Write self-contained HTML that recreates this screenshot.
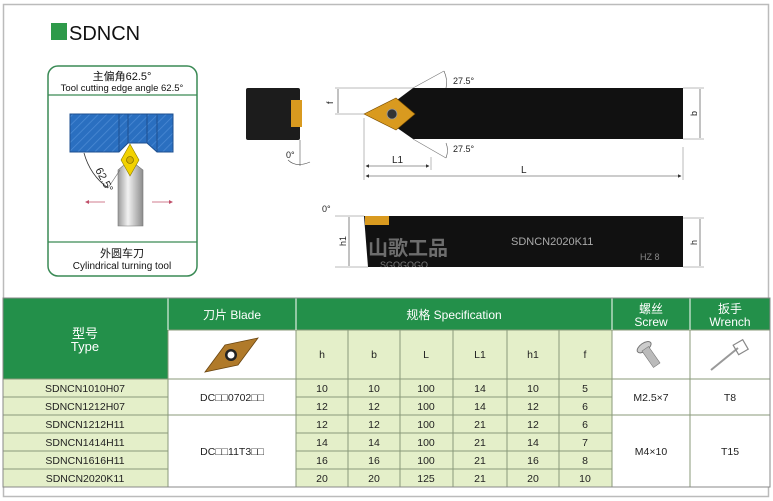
<!DOCTYPE html>
<html><head><meta charset="utf-8"><style>
body{margin:0;width:773px;height:501px;background:#fff;overflow:hidden;font-family:"Liberation Sans","Noto Sans CJK SC",sans-serif}
svg{position:absolute;left:0;top:0}
</style></head><body>
<svg width="773" height="501" viewBox="0 0 773 501" font-family="Liberation Sans, Noto Sans CJK SC, sans-serif">
<defs>
<pattern id="hatch" width="6" height="6" patternUnits="userSpaceOnUse" patternTransform="rotate(45)"><rect width="6" height="6" fill="#2a6fc0"/><line x1="0" y1="0" x2="0" y2="6" stroke="#4b8ad4" stroke-width="1.5"/></pattern>
<linearGradient id="shaft" x1="0" x2="1"><stop offset="0" stop-color="#9a9a9a"/><stop offset="0.4" stop-color="#f2f2f2"/><stop offset="1" stop-color="#8c8c8c"/></linearGradient>
<marker id="ar" markerWidth="6" markerHeight="6" refX="5" refY="3" orient="auto-start-reverse"><path d="M0,0 L6,3 L0,6 z" fill="#333"/></marker>
</defs>
<rect x="3.5" y="4.5" width="765" height="492" fill="none" stroke="#bbb" stroke-width="1.5"/>
<rect x="51" y="23" width="16" height="17" fill="#2e9a4a"/>
<text x="69" y="40" font-size="20" fill="#111">SDNCN</text>

<rect x="48" y="66" width="149" height="210" rx="10" fill="#fff" stroke="#3a8a55" stroke-width="1.5"/>
<line x1="48" y1="95" x2="197" y2="95" stroke="#3a8a55" stroke-width="1.2"/>
<line x1="48" y1="242" x2="197" y2="242" stroke="#3a8a55" stroke-width="1.2"/>
<text x="122" y="80" font-size="11" text-anchor="middle" fill="#111">主偏角62.5°</text>
<text x="122" y="91" font-size="9.5" text-anchor="middle" fill="#111">Tool cutting edge angle 62.5°</text>
<text x="122" y="257" font-size="11" text-anchor="middle" fill="#111">外圆车刀</text>
<text x="122" y="269" font-size="10" text-anchor="middle" fill="#111">Cylindrical turning tool</text>
<path d="M70,114 H173 V152 H157 L147,143 H128 L119,152 H70 Z" fill="url(#hatch)" stroke="#1d4f8f" stroke-width="1"/>
<line x1="119" y1="114" x2="119" y2="152" stroke="#1d4f8f"/><line x1="128" y1="114" x2="128" y2="143" stroke="#1d4f8f"/><line x1="147" y1="114" x2="147" y2="143" stroke="#1d4f8f"/><line x1="157" y1="114" x2="157" y2="152" stroke="#1d4f8f"/>
<path d="M118,170 L130,160 L143,170 V226 H118 Z" fill="url(#shaft)" stroke="#777" stroke-width="0.6"/>
<path d="M130,144 L139,160 L130,176 L121,160 Z" fill="#f2d200" stroke="#8a7a00" stroke-width="0.6"/>
<circle cx="130" cy="160" r="3.5" fill="#d8b400" stroke="#6b5a00" stroke-width="0.6"/>
<path d="M84,153 Q90,175 108,188" fill="none" stroke="#333" stroke-width="0.8"/>
<line x1="108" y1="188" x2="120" y2="170" stroke="#666" stroke-width="0.6"/>
<text x="95" y="170" font-size="11" fill="#222" transform="rotate(62 95 170)">62.5°</text>
<line x1="88" y1="202" x2="105" y2="202" stroke="#c0506a" stroke-width="0.8"/><path d="M85,202 l4,-2 v4z" fill="#c0506a"/>
<line x1="152" y1="202" x2="170" y2="202" stroke="#c0506a" stroke-width="0.8"/><path d="M173,202 l-4,-2 v4z" fill="#c0506a"/>

<rect x="246" y="88" width="54" height="52" rx="2" fill="#1c1c1c"/>
<rect x="291" y="100" width="11" height="27" fill="#d99a1f"/>
<text x="286" y="158" font-size="9" fill="#222">0°</text>
<line x1="300" y1="140" x2="300" y2="166" stroke="#555" stroke-width="0.6"/>
<path d="M288,160 Q296,168 310,162" fill="none" stroke="#555" stroke-width="0.6"/>

<path d="M413,88 H683 V139 H413 L393,125 L393,103 Z" fill="#111"/>
<path d="M364,114 L396,98 L415,114 L396,130 Z" fill="#d99a1f" stroke="#7a4e00" stroke-width="0.6"/>
<circle cx="392" cy="114" r="5" fill="#333" stroke="#999" stroke-width="0.8"/>
<line x1="413" y1="88" x2="444" y2="71" stroke="#777" stroke-width="0.6"/>
<line x1="413" y1="139" x2="446" y2="158" stroke="#777" stroke-width="0.6"/>
<path d="M444,71 Q448,80 446,88" fill="none" stroke="#555" stroke-width="0.6"/>
<path d="M446,143 Q449,150 446,158" fill="none" stroke="#555" stroke-width="0.6"/>
<text x="453" y="84" font-size="9" fill="#222">27.5°</text>
<text x="453" y="152" font-size="9" fill="#222">27.5°</text>
<line x1="335" y1="88" x2="413" y2="88" stroke="#777" stroke-width="0.5"/>
<line x1="335" y1="114" x2="364" y2="114" stroke="#777" stroke-width="0.5"/>
<line x1="338" y1="89" x2="338" y2="113" stroke="#333" stroke-width="0.6"/>
<text x="333" y="104" font-size="9" fill="#222" transform="rotate(-90 333 104)">f</text>
<line x1="364" y1="118" x2="364" y2="180" stroke="#777" stroke-width="0.5"/>
<line x1="431" y1="157" x2="431" y2="170" stroke="#777" stroke-width="0.5"/>
<line x1="366" y1="166" x2="429" y2="166" stroke="#333" stroke-width="0.6" marker-end="url(#ar)" marker-start="url(#ar)"/>
<text x="392" y="163" font-size="10" fill="#222">L1</text>
<line x1="683" y1="147" x2="683" y2="180" stroke="#777" stroke-width="0.5"/>
<line x1="366" y1="176" x2="681" y2="176" stroke="#333" stroke-width="0.6" marker-end="url(#ar)" marker-start="url(#ar)"/>
<text x="521" y="173" font-size="10" fill="#222">L</text>
<line x1="683" y1="88" x2="704" y2="88" stroke="#777" stroke-width="0.5"/>
<line x1="683" y1="139" x2="704" y2="139" stroke="#777" stroke-width="0.5"/>
<line x1="700" y1="89" x2="700" y2="138" stroke="#333" stroke-width="0.6"/>
<text x="697" y="116" font-size="9" fill="#222" transform="rotate(-90 697 116)">b</text>

<path d="M364,216 H683 V267 H368 Z" fill="#111"/>
<rect x="365" y="216" width="24" height="9" fill="#d99a1f"/>
<text x="511" y="245" font-size="11" fill="#aaa">SDNCN2020K11</text>
<text x="640" y="260" font-size="9" fill="#888">HZ 8</text>
<text x="322" y="212" font-size="9" fill="#222">0°</text>
<line x1="335" y1="216" x2="364" y2="216" stroke="#777" stroke-width="0.5"/>
<line x1="335" y1="267" x2="368" y2="267" stroke="#777" stroke-width="0.5"/>
<line x1="349" y1="217" x2="349" y2="266" stroke="#333" stroke-width="0.6"/>
<text x="346" y="246" font-size="9" fill="#222" transform="rotate(-90 346 246)">h1</text>
<line x1="683" y1="218" x2="704" y2="218" stroke="#777" stroke-width="0.5"/>
<line x1="683" y1="267" x2="704" y2="267" stroke="#777" stroke-width="0.5"/>
<line x1="700" y1="219" x2="700" y2="266" stroke="#333" stroke-width="0.6"/>
<text x="697" y="245" font-size="9" fill="#222" transform="rotate(-90 697 245)">h</text>
<text x="368" y="255" font-size="20" font-weight="bold" fill="#ddd" opacity="0.45">山歌工品</text>
<text x="380" y="268" font-size="9" fill="#ddd" opacity="0.5">SGOGOGO</text>

<g stroke="#8a9a7a" stroke-width="1">
<rect x="3" y="298" width="767" height="32" fill="#23904a" stroke="none"/>
<rect x="3" y="330" width="165" height="49" fill="#23904a" stroke="none"/>
<rect x="168" y="330" width="128" height="49" fill="#fff"/>
<rect x="296" y="330" width="316" height="49" fill="#e4efc9"/>
<rect x="612" y="330" width="78" height="49" fill="#fff"/>
<rect x="690" y="330" width="80" height="49" fill="#fff"/>
<rect x="3" y="379" width="165" height="108" fill="#e4efc9"/>
<rect x="168" y="379" width="128" height="108" fill="#fff"/>
<rect x="296" y="379" width="316" height="108" fill="#e4efc9"/>
<rect x="612" y="379" width="158" height="108" fill="#fff"/>
<line x1="168" y1="298" x2="168" y2="487" stroke="#fff"/>
<line x1="296" y1="298" x2="296" y2="330" stroke="#fff"/>
<line x1="612" y1="298" x2="612" y2="330" stroke="#fff"/>
<line x1="690" y1="298" x2="690" y2="330" stroke="#fff"/>
<line x1="168" y1="330" x2="168" y2="487"/>
<line x1="296" y1="330" x2="296" y2="487"/>
<line x1="348" y1="330" x2="348" y2="487"/>
<line x1="400" y1="330" x2="400" y2="487"/>
<line x1="453" y1="330" x2="453" y2="487"/>
<line x1="507" y1="330" x2="507" y2="487"/>
<line x1="559" y1="330" x2="559" y2="487"/>
<line x1="612" y1="330" x2="612" y2="487"/>
<line x1="690" y1="330" x2="690" y2="487"/>
<line x1="3" y1="379" x2="770" y2="379"/>
<line x1="3" y1="397" x2="168" y2="397"/><line x1="296" y1="397" x2="612" y2="397"/>
<line x1="3" y1="415" x2="770" y2="415"/>
<line x1="3" y1="433" x2="168" y2="433"/><line x1="296" y1="433" x2="612" y2="433"/>
<line x1="3" y1="451" x2="168" y2="451"/><line x1="296" y1="451" x2="612" y2="451"/>
<line x1="3" y1="469" x2="168" y2="469"/><line x1="296" y1="469" x2="612" y2="469"/>
<rect x="3" y="298" width="767" height="189" fill="none" stroke="#888"/>
</g>
<g font-size="12" fill="#fff" text-anchor="middle">
<text x="85" y="338" font-size="13">型号</text><text x="85" y="351" font-size="13">Type</text>
<text x="232" y="319">刀片 Blade</text>
<text x="454" y="319">规格 Specification</text>
<text x="651" y="313">螺丝</text><text x="651" y="326">Screw</text>
<text x="730" y="313">扳手</text><text x="730" y="326">Wrench</text>
</g>
<path d="M205,372 L225,345 L258,338 L238,365 Z" fill="#b07a2a" stroke="#6a4510" stroke-width="0.8"/>
<circle cx="231" cy="355" r="6" fill="#222"/><circle cx="231" cy="355" r="3.5" fill="#fff"/>
<g transform="rotate(-35 651 357)"><ellipse cx="651" cy="345" rx="8" ry="4" fill="#ccc" stroke="#777"/><rect x="647" y="347" width="8" height="20" fill="#bbb" stroke="#777" stroke-width="0.6"/></g>
<line x1="711" y1="370" x2="738" y2="348" stroke="#999" stroke-width="2"/>
<rect x="735" y="342" width="11" height="11" fill="none" stroke="#888" stroke-width="1.2" transform="rotate(-30 740 347)"/>
<g font-size="10.5" fill="#222" text-anchor="middle">
<text x="322" y="358">h</text><text x="374" y="358">b</text><text x="426" y="358">L</text><text x="480" y="358">L1</text><text x="533" y="358">h1</text><text x="585" y="358">f</text>
<text x="85" y="392">SDNCN1010H07</text><text x="85" y="410">SDNCN1212H07</text><text x="85" y="428">SDNCN1212H11</text><text x="85" y="446">SDNCN1414H11</text><text x="85" y="464">SDNCN1616H11</text><text x="85" y="482">SDNCN2020K11</text>
<text x="232" y="401">DC□□0702□□</text>
<text x="232" y="455">DC□□11T3□□</text>
<text x="651" y="401">M2.5×7</text><text x="730" y="401">T8</text>
<text x="651" y="455">M4×10</text><text x="730" y="455">T15</text>
</g>
<g font-size="10.5" fill="#222" text-anchor="middle">
<text x="322" y="392">10</text><text x="374" y="392">10</text><text x="426" y="392">100</text><text x="480" y="392">14</text><text x="533" y="392">10</text><text x="585" y="392">5</text>
<text x="322" y="410">12</text><text x="374" y="410">12</text><text x="426" y="410">100</text><text x="480" y="410">14</text><text x="533" y="410">12</text><text x="585" y="410">6</text>
<text x="322" y="428">12</text><text x="374" y="428">12</text><text x="426" y="428">100</text><text x="480" y="428">21</text><text x="533" y="428">12</text><text x="585" y="428">6</text>
<text x="322" y="446">14</text><text x="374" y="446">14</text><text x="426" y="446">100</text><text x="480" y="446">21</text><text x="533" y="446">14</text><text x="585" y="446">7</text>
<text x="322" y="464">16</text><text x="374" y="464">16</text><text x="426" y="464">100</text><text x="480" y="464">21</text><text x="533" y="464">16</text><text x="585" y="464">8</text>
<text x="322" y="482">20</text><text x="374" y="482">20</text><text x="426" y="482">125</text><text x="480" y="482">21</text><text x="533" y="482">20</text><text x="585" y="482">10</text>
</g>
</svg>
</body></html>
